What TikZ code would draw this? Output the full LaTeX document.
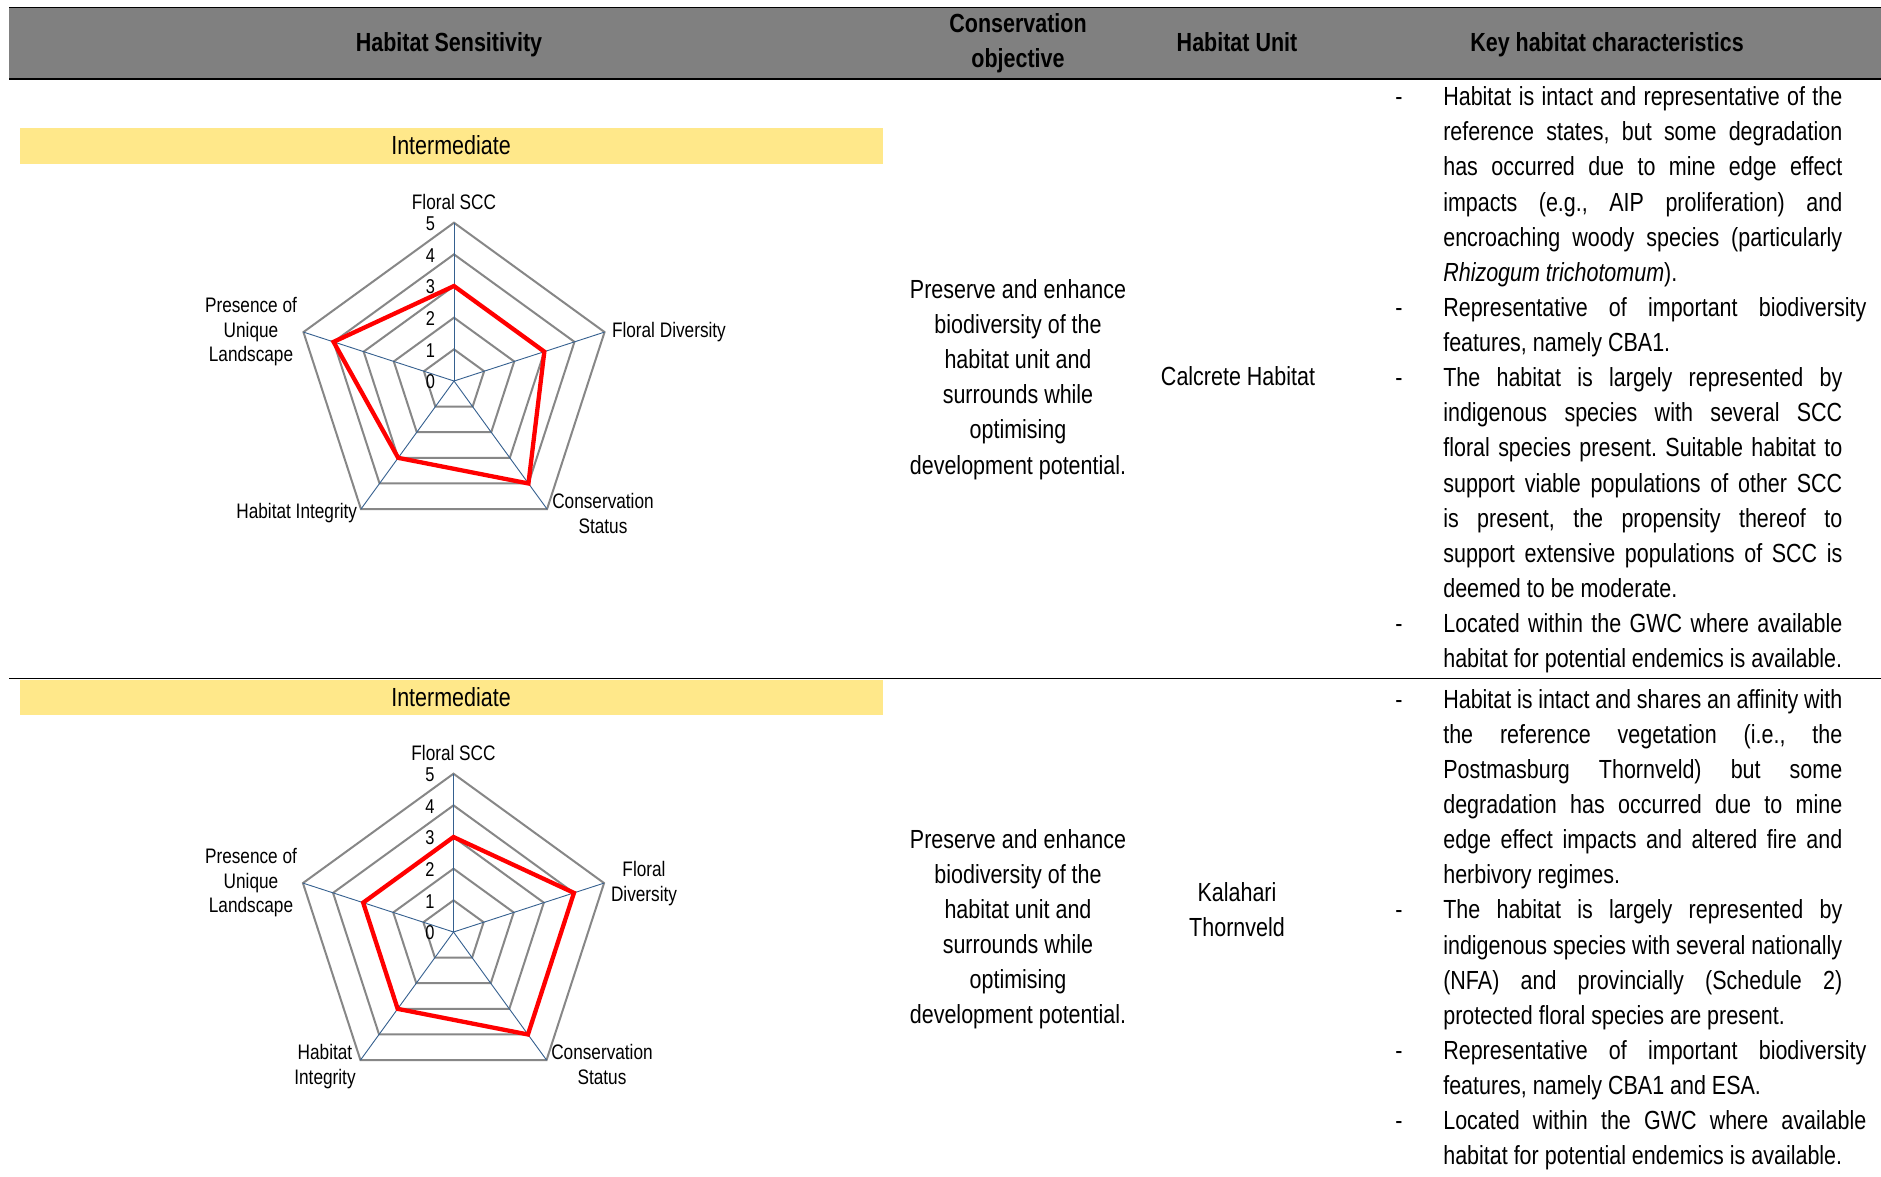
\documentclass[tikz,border=0pt]{standalone}
\usepackage{fontspec}
\setmainfont{Liberation Sans}[FakeStretch=0.82]
\usetikzlibrary{calc}
\frenchspacing
\definecolor{hdr}{HTML}{808080}
\definecolor{yel}{HTML}{FFE88A}
\definecolor{ringc}{HTML}{878787}
\definecolor{spokec}{HTML}{35608F}
\definecolor{redc}{HTML}{FF0000}
\newcommand\bodyfont{\fontsize{26.2}{31}\selectfont}
\newcommand\chartfont{\fontsize{21}{24}\selectfont}
\newcommand\digitfont{\fontsize{20}{23}\selectfont}
\newcommand\jline[1]{\makebox[399pt][s]{#1}}
\newcommand\jwide[1]{\makebox[423pt][s]{#1}}
\tikzset{
  txt/.style={inner sep=0pt, outer sep=0pt, font=\bodyfont, anchor=base},
  hd/.style={txt, font=\bodyfont\bfseries},
  jl/.style={txt, anchor=base west},
  lab/.style={inner sep=0pt, outer sep=0pt, font=\chartfont, anchor=base},
  dig/.style={inner sep=0pt, outer sep=0pt, font=\digitfont, anchor=center},
  ring/.style={draw=ringc, line width=2pt},
  spoke/.style={draw=spokec, line width=0.9pt},
  series/.style={draw=redc, line width=4.3pt},
  rulec/.style={draw=black, line width=1.3pt},
  band/.style={fill=yel},
}
\newcommand\radar[7]{% #1 prefix, #2 centre, #3..#7 values
  \begin{scope}[shift={(#2)}]
    \foreach \r in {1,...,5}{
      \draw[ring] (-90:\r*31.66) -- (-18:\r*31.66) -- (54:\r*31.66) -- (126:\r*31.66) -- (198:\r*31.66) -- cycle;
    }
    \foreach \k in {0,...,4}{\draw[spoke] (0,0) -- (-90+72*\k:158.3);}
    \draw[series] (-90:#3*31.66) -- (-18:#4*31.66) -- (54:#5*31.66) -- (126:#6*31.66) -- (198:#7*31.66) -- cycle;
    \foreach \v in {0,...,5}{\node[dig] (#1d\v) at (-23.5,{-\v*31.66+1}) {\v};}
  \end{scope}}
\newcommand\rowAline[2]{\node[jl] (ra#1) at (1443.3,{105.7+35.12*#1}) {#2};}
\newcommand\rowBline[2]{\node[jl] (rb#1) at (1443.3,{708+35.15*#1}) {#2};}
\newcommand\midAline[2]{\node[txt] (ma#1) at (1018,{298+35.2*#1}) {#2};}
\newcommand\midBline[2]{\node[txt] (mb#1) at (1018,{848+35.1*#1}) {#2};}
\begin{document}
\begin{tikzpicture}[x=1pt,y=-1pt]
\fill[white] (0,0) rectangle (1881,1176);
\useasboundingbox (0,0) rectangle (1881,1176);
% header
\fill[hdr] (9,7.3) rectangle (1881,79);
\draw[rulec] (9,7.3) -- (1881,7.3);
\draw[rulec] (9,79) -- (1881,79);
\draw[rulec] (9,678.3) -- (1881,678.3);
\node[hd] (h1) at (449,51.7) {Habitat Sensitivity};
\node[hd] (h2a) at (1018,32.3) {Conservation};
\node[hd] (h2b) at (1018,67) {objective};
\node[hd] (h3) at (1237,51.7) {Habitat Unit};
\node[hd] (h4) at (1607,51.7) {Key habitat characteristics};
% yellow bands
\fill[band] (20,127.7) rectangle (883,164);
\node[txt] (int1) at (451,154.3) {Intermediate};
\fill[band] (20,679.5) rectangle (883,715);
\node[txt] (int2) at (451,706.6) {Intermediate};
% chart 1
\radar{ca}{454,381}{3}{3}{4}{3}{4}
\node[lab] (c1scc) at (454,209.5) {Floral SCC};
\node[lab, anchor=base west] (c1fd) at (612,337) {Floral Diversity};
\node[lab] (c1cs1) at (603,508.5) {Conservation};
\node[lab] (c1cs2) at (603,533) {Status};
\node[lab, anchor=base east] (c1hi) at (357,518) {Habitat Integrity};
\node[lab] (c1p1) at (251,312) {Presence of};
\node[lab] (c1p2) at (251,337) {Unique};
\node[lab] (c1p3) at (251,361.5) {Landscape};
% chart 2
\radar{cb}{453.5,932}{3}{4}{4}{3}{3}
\node[lab] (c2scc) at (453.5,760.5) {Floral SCC};
\node[lab] (c2fd1) at (644,876.5) {Floral};
\node[lab] (c2fd2) at (644,901.5) {Diversity};
\node[lab] (c2cs1) at (602,1059.5) {Conservation};
\node[lab] (c2cs2) at (602,1084) {Status};
\node[lab] (c2hi1) at (325,1059.5) {Habitat};
\node[lab] (c2hi2) at (325,1084) {Integrity};
\node[lab] (c2p1) at (251,863) {Presence of};
\node[lab] (c2p2) at (251,888) {Unique};
\node[lab] (c2p3) at (251,912.5) {Landscape};
% conservation objective
\midAline{0}{Preserve and enhance}
\midAline{1}{biodiversity of the}
\midAline{2}{habitat unit and}
\midAline{3}{surrounds while}
\midAline{4}{optimising}
\midAline{5}{development potential.}
\midBline{0}{Preserve and enhance}
\midBline{1}{biodiversity of the}
\midBline{2}{habitat unit and}
\midBline{3}{surrounds while}
\midBline{4}{optimising}
\midBline{5}{development potential.}
% habitat unit
\node[txt] (u1) at (1238,385) {Calcrete Habitat};
\node[txt] (u2a) at (1237,901.7) {Kalahari};
\node[txt] (u2b) at (1237,936.7) {Thornveld};
% key characteristics row 1
\foreach \i in {0,6,8,15}{\node[txt] (ba\i) at (1399,{105.7+35.12*\i}) {-};}
\rowAline{0}{\jline{Habitat is intact and representative of the}}
\rowAline{1}{\jline{reference states, but some degradation}}
\rowAline{2}{\jline{has occurred due to mine edge effect}}
\rowAline{3}{\jline{impacts (e.g., AIP proliferation) and}}
\rowAline{4}{\jline{encroaching woody species (particularly}}
\rowAline{5}{\textit{Rhizogum trichotomum}).}
\rowAline{6}{\jwide{Representative of important biodiversity}}
\rowAline{7}{features, namely CBA1.}
\rowAline{8}{\jline{The habitat is largely represented by}}
\rowAline{9}{\jline{indigenous species with several SCC}}
\rowAline{10}{\jline{floral species present. Suitable habitat to}}
\rowAline{11}{\jline{support viable populations of other SCC}}
\rowAline{12}{\jline{is present, the propensity thereof to}}
\rowAline{13}{\jline{support extensive populations of SCC is}}
\rowAline{14}{deemed to be moderate.}
\rowAline{15}{\jline{Located within the GWC where available}}
\rowAline{16}{habitat for potential endemics is available.}
% key characteristics row 2
\foreach \i in {0,6,10,12}{\node[txt] (bb\i) at (1399,{708+35.15*\i}) {-};}
\rowBline{0}{\jline{Habitat is intact and shares an affinity with}}
\rowBline{1}{\jline{the reference vegetation (i.e., the}}
\rowBline{2}{\jline{Postmasburg Thornveld) but some}}
\rowBline{3}{\jline{degradation has occurred due to mine}}
\rowBline{4}{\jline{edge effect impacts and altered fire and}}
\rowBline{5}{herbivory regimes.}
\rowBline{6}{\jline{The habitat is largely represented by}}
\rowBline{7}{\jline{indigenous species with several nationally}}
\rowBline{8}{\jline{(NFA) and provincially (Schedule 2)}}
\rowBline{9}{protected floral species are present.}
\rowBline{10}{\jwide{Representative of important biodiversity}}
\rowBline{11}{features, namely CBA1 and ESA.}
\rowBline{12}{\jwide{Located within the GWC where available}}
\rowBline{13}{habitat for potential endemics is available.}
\end{tikzpicture}
\end{document}
